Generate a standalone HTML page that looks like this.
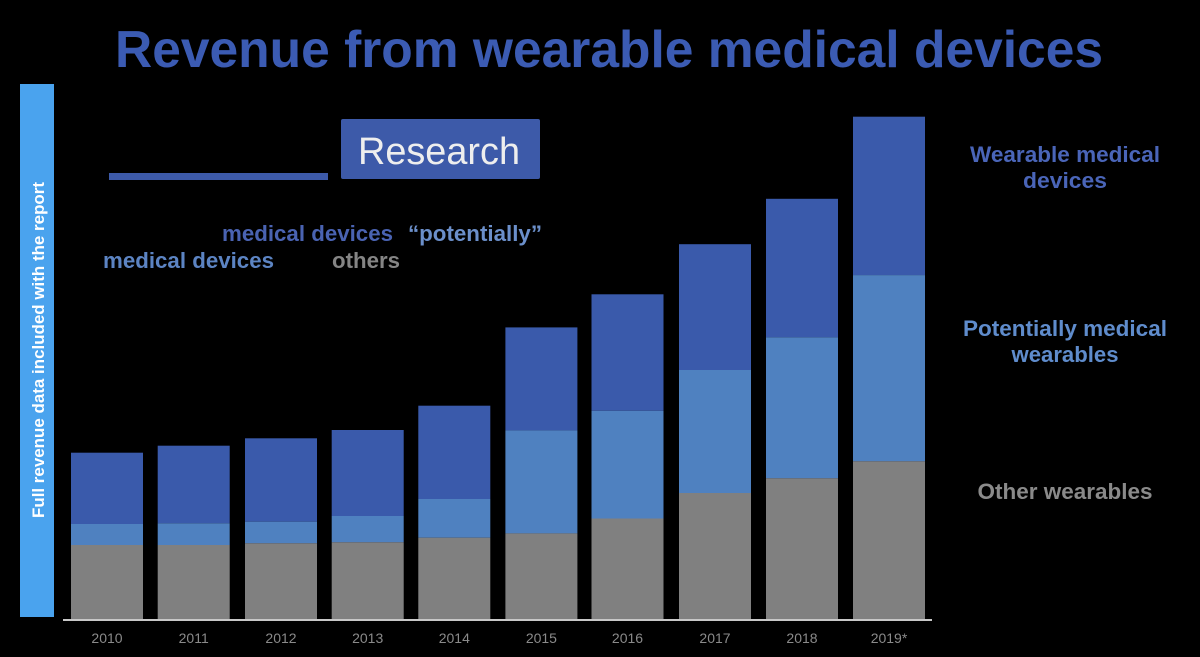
<!DOCTYPE html>
<html>
<head>
<meta charset="utf-8">
<style>
  html, body { margin: 0; padding: 0; background: #000; }
  body { width: 1200px; height: 657px; overflow: hidden; }
  svg { display: block; }
  text { font-family: "Liberation Sans", Arial, sans-serif; }
</style>
</head>
<body>
<svg width="1200" height="657" viewBox="0 0 1200 657" xmlns="http://www.w3.org/2000/svg">
  <rect x="0" y="0" width="1200" height="657" fill="#000"/>

  <text x="115" y="67" font-size="52" font-weight="bold" fill="#3b5bb3" textLength="988" lengthAdjust="spacingAndGlyphs">Revenue from wearable medical devices</text>

  <rect x="20" y="84" width="34" height="533" fill="#4aa3ee"/>
  <text transform="translate(44,518) rotate(-90)" x="0" y="0" font-size="17" font-weight="bold" fill="#ffffff" textLength="336" lengthAdjust="spacingAndGlyphs">Full revenue data included with the report</text>

  <rect x="109" y="173" width="219" height="7" fill="#3d5aa9"/>
  <rect x="341" y="119" width="199" height="60" rx="2" fill="#3d5aa9"/>
  <text x="358" y="164" font-size="38" fill="#eeeeee" textLength="162" lengthAdjust="spacingAndGlyphs">Research</text>

  <text x="222" y="241" font-size="22" font-weight="bold" fill="#4a63b2" textLength="171" lengthAdjust="spacingAndGlyphs">medical devices</text>
  <text x="408" y="241" font-size="22" font-weight="bold" fill="#6b8fca" textLength="134" lengthAdjust="spacingAndGlyphs">“potentially”</text>
  <text x="103" y="268" font-size="22" font-weight="bold" fill="#5c84c3" textLength="171" lengthAdjust="spacingAndGlyphs">medical devices</text>
  <text x="332" y="268" font-size="22" font-weight="bold" fill="#858585" textLength="68" lengthAdjust="spacingAndGlyphs">others</text>

  <g font-size="22" font-weight="bold" text-anchor="middle">
    <text x="1065" y="162" fill="#4a65b8" textLength="190" lengthAdjust="spacingAndGlyphs">Wearable medical</text>
    <text x="1065" y="188" fill="#4a65b8" textLength="84" lengthAdjust="spacingAndGlyphs">devices</text>
    <text x="1065" y="336" fill="#5f8ccc" textLength="204" lengthAdjust="spacingAndGlyphs">Potentially medical</text>
    <text x="1065" y="362" fill="#5f8ccc" textLength="107" lengthAdjust="spacingAndGlyphs">wearables</text>
    <text x="1065" y="499" fill="#8a8a8a" textLength="175" lengthAdjust="spacingAndGlyphs">Other wearables</text>
  </g>

  <g>
    <rect x="71" y="452.7" width="72" height="71.3" fill="#3a5aab"/>
    <rect x="71" y="524" width="72" height="21" fill="#4f81c0"/>
    <rect x="71" y="545" width="72" height="75" fill="#808080"/>

    <rect x="157.7" y="445.7" width="72" height="77.6" fill="#3a5aab"/>
    <rect x="157.7" y="523.3" width="72" height="21.7" fill="#4f81c0"/>
    <rect x="157.7" y="545" width="72" height="75" fill="#808080"/>

    <rect x="245" y="438.3" width="72" height="83.4" fill="#3a5aab"/>
    <rect x="245" y="521.7" width="72" height="21.6" fill="#4f81c0"/>
    <rect x="245" y="543.3" width="72" height="76.7" fill="#808080"/>

    <rect x="331.7" y="430" width="72" height="86" fill="#3a5aab"/>
    <rect x="331.7" y="516" width="72" height="26.3" fill="#4f81c0"/>
    <rect x="331.7" y="542.3" width="72" height="77.7" fill="#808080"/>

    <rect x="418.3" y="405.7" width="72" height="93.3" fill="#3a5aab"/>
    <rect x="418.3" y="499" width="72" height="38.7" fill="#4f81c0"/>
    <rect x="418.3" y="537.7" width="72" height="82.3" fill="#808080"/>

    <rect x="505.4" y="327.4" width="72" height="103" fill="#3a5aab"/>
    <rect x="505.4" y="430.4" width="72" height="103" fill="#4f81c0"/>
    <rect x="505.4" y="533.4" width="72" height="86.6" fill="#808080"/>

    <rect x="591.5" y="294.3" width="72" height="116.5" fill="#3a5aab"/>
    <rect x="591.5" y="410.8" width="72" height="107.7" fill="#4f81c0"/>
    <rect x="591.5" y="518.5" width="72" height="101.5" fill="#808080"/>

    <rect x="679" y="244.2" width="72" height="125.8" fill="#3a5aab"/>
    <rect x="679" y="370" width="72" height="123" fill="#4f81c0"/>
    <rect x="679" y="493" width="72" height="127" fill="#808080"/>

    <rect x="766" y="198.8" width="72" height="138.5" fill="#3a5aab"/>
    <rect x="766" y="337.3" width="72" height="141" fill="#4f81c0"/>
    <rect x="766" y="478.3" width="72" height="141.7" fill="#808080"/>

    <rect x="853" y="116.7" width="72" height="158.4" fill="#3a5aab"/>
    <rect x="853" y="275.1" width="72" height="186.2" fill="#4f81c0"/>
    <rect x="853" y="461.3" width="72" height="158.7" fill="#808080"/>
  </g>

  <rect x="63" y="619" width="869" height="2" fill="#c8c8c8"/>

  <g font-size="14" fill="#8a8a8a" text-anchor="middle">
    <text x="107" y="643">2010</text>
    <text x="193.7" y="643">2011</text>
    <text x="281" y="643">2012</text>
    <text x="367.7" y="643">2013</text>
    <text x="454.3" y="643">2014</text>
    <text x="541.4" y="643">2015</text>
    <text x="627.5" y="643">2016</text>
    <text x="715" y="643">2017</text>
    <text x="802" y="643">2018</text>
    <text x="889" y="643">2019*</text>
  </g>
</svg>
</body>
</html>
